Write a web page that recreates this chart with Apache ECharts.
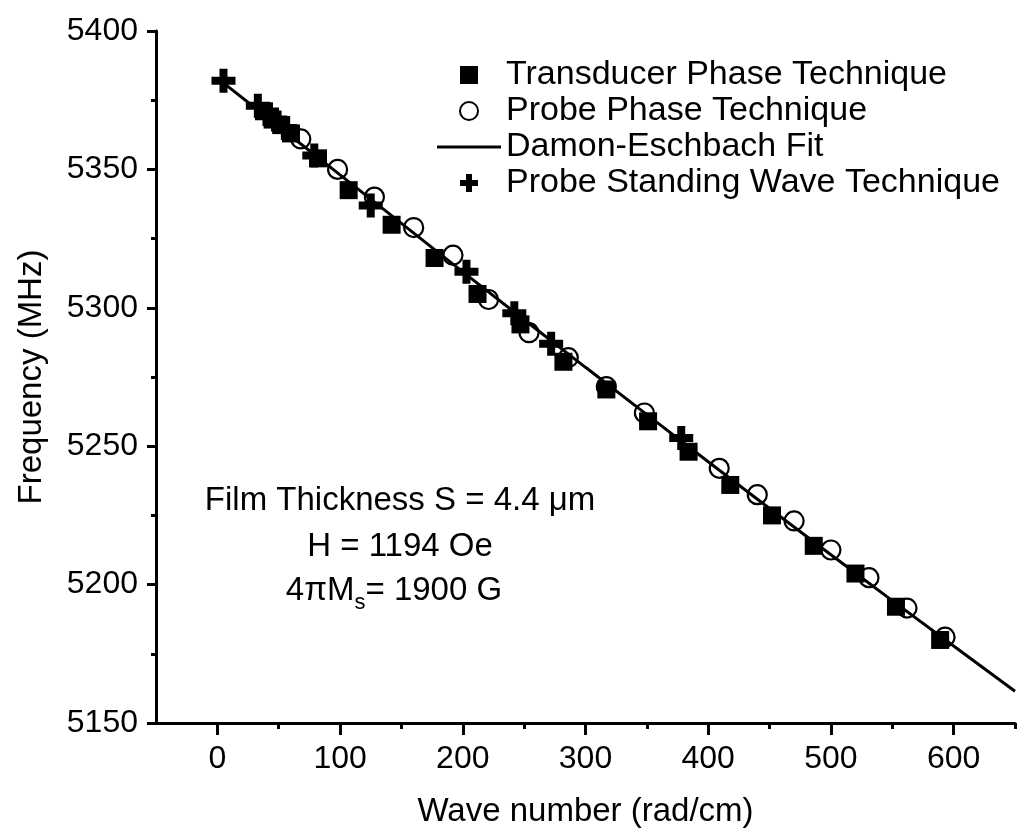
<!DOCTYPE html>
<html><head><meta charset="utf-8">
<script src="https://cdn.jsdelivr.net/npm/echarts@6/dist/echarts.min.js"></script>
<style>html,body{margin:0;padding:0;background:#fff}#c{width:1028px;height:839px}</style>
</head><body><div id="c"></div>
<script>
// Data
const transducerK = [38,45,52,60,82,107,142,177,212,247,282,317,351,384,418,452,486,520,553,589];
const transducerF = [5371,5368,5366,5363,5354,5342.5,5330,5318,5305,5294,5280.5,5270.5,5259,5248,5236,5225,5214,5204,5192,5180];
const probePhaseK = [68,98,128,160,192,221,254,286,317,348,409,440,470,500,531,562,593];
const probePhaseF = [5361,5350,5340,5329,5319,5303,5291,5282,5271.5,5262,5242,5232.5,5223,5212.5,5202.5,5191.5,5181];
const standingK = [5,33,40,47,55,79,125,203,242,272,378];
const standingF = [5382,5373,5370,5368,5365,5355,5337,5313,5298,5287,5253];
const fitK = [0,50,100,150,200,250,300,350,400,450,500,550,600,650];
const fitF = [5383,5365.5,5348,5330.5,5313,5295.7,5278.5,5261.4,5244.4,5227.5,5210.8,5194.2,5177.8,5161.5];
const xMajorTicks = [0,100,200,300,400,500,600];
const xMinorTicks = [50,150,250,350,450,550,650];
const seriesNames = ['Transducer Phase Technique','Probe Phase Technique','Damon-Eschbach Fit','Probe Standing Wave Technique'];

const zip = (a,b) => a.map((v,i)=>[v,b[i]]);
const FONT = '"Liberation Sans", Arial, Helvetica, sans-serif';
const plusPath = 'path://M-1,-3L1,-3L1,-1L3,-1L3,1L1,1L1,3L-1,3L-1,1L-3,1L-3,-1L-1,-1Z';
const squarePath = 'path://M0,0L1,0L1,1L0,1Z';
const linePath = 'path://M0,0L64,0L64,3L0,3Z';

const chart = echarts.init(document.getElementById('c'), null, {renderer:'canvas'});
chart.setOption({
  animation:false,
  backgroundColor:'#fff',
  textStyle:{fontFamily:FONT,color:'#000'},
  grid:{left:156,right:13,top:31,bottom:116},
  legend:{
    data:[
      {name:seriesNames[0]},
      {name:seriesNames[1]},
      {name:seriesNames[2],icon:linePath},
      {name:seriesNames[3]}
    ],
    orient:'vertical', left:432, top:52,
    itemWidth:64, itemHeight:18, itemGap:0,
    textStyle:{fontFamily:FONT,fontSize:34,color:'#000',lineHeight:36},
    selectedMode:false
  },
  xAxis:[{
    type:'value', min:-50, max:650,
    name:'Wave number (rad/cm)', nameLocation:'middle', nameGap:72,
    nameTextStyle:{fontFamily:FONT,fontSize:33,color:'#000'},
    axisLine:{show:true,onZero:false,lineStyle:{color:'#000',width:3}},
    axisTick:{show:true,length:12,lineStyle:{color:'#000',width:3},customValues:xMajorTicks},
    axisLabel:{fontFamily:FONT,fontSize:32,color:'#000',margin:20,customValues:xMajorTicks},
    splitLine:{show:false}
  },{
    type:'value', min:-50, max:650, position:'bottom',
    axisLine:{show:false,onZero:false},
    axisTick:{show:true,length:6,lineStyle:{color:'#000',width:3},customValues:xMinorTicks},
    axisLabel:{show:false},
    splitLine:{show:false}
  }],
  yAxis:{
    type:'value', min:5150, max:5400, interval:50,
    name:'Frequency (MHz)', nameLocation:'middle', nameGap:108,
    nameTextStyle:{fontFamily:FONT,fontSize:33,color:'#000'},
    axisLine:{show:true,onZero:false,lineStyle:{color:'#000',width:3}},
    axisTick:{show:true,length:9,lineStyle:{color:'#000',width:3}},
    minorTick:{show:true,splitNumber:2,length:5,lineStyle:{color:'#000',width:3}},
    axisLabel:{fontFamily:FONT,fontSize:32,color:'#000',margin:18,formatter:v=>String(v)},
    splitLine:{show:false}
  },
  series:[
    {name:seriesNames[2],type:'line',xAxisIndex:0,data:zip(fitK,fitF),symbol:'none',
     lineStyle:{color:'#000',width:3},itemStyle:{color:'#000'},z:2},
    {name:seriesNames[0],type:'scatter',xAxisIndex:0,data:zip(transducerK,transducerF),symbol:squarePath,symbolSize:18,
     itemStyle:{color:'#000',opacity:1},z:3},
    {name:seriesNames[1],type:'scatter',xAxisIndex:0,data:zip(probePhaseK,probePhaseF),symbol:'circle',symbolSize:19,
     itemStyle:{color:'rgba(255,255,255,0)',borderColor:'#000',borderWidth:2.2,opacity:1},z:4},
    {name:seriesNames[3],type:'scatter',xAxisIndex:0,data:zip(standingK,standingF),symbol:plusPath,symbolSize:24,
     itemStyle:{color:'#000',opacity:1},z:5}
  ],
  graphic:[
    {type:'text',x:400,y:501,style:{text:'Film Thickness S = 4.4 μm',fontFamily:FONT,fontSize:33,fill:'#000',align:'center',verticalAlign:'middle'}},
    {type:'text',x:400,y:547,style:{text:'H = 1194 Oe',fontFamily:FONT,fontSize:33,fill:'#000',align:'center',verticalAlign:'middle'}},
    {type:'text',x:394,y:591,style:{text:'{m|4πM}{s|s}{m|= 1900 G}',align:'center',verticalAlign:'middle',
      rich:{m:{fontFamily:FONT,fontSize:33,fill:'#000',lineHeight:46,verticalAlign:'middle'},
            s:{fontFamily:FONT,fontSize:22,fill:'#000',lineHeight:22,verticalAlign:'bottom'}}}}
  ]
});
</script></body></html>
